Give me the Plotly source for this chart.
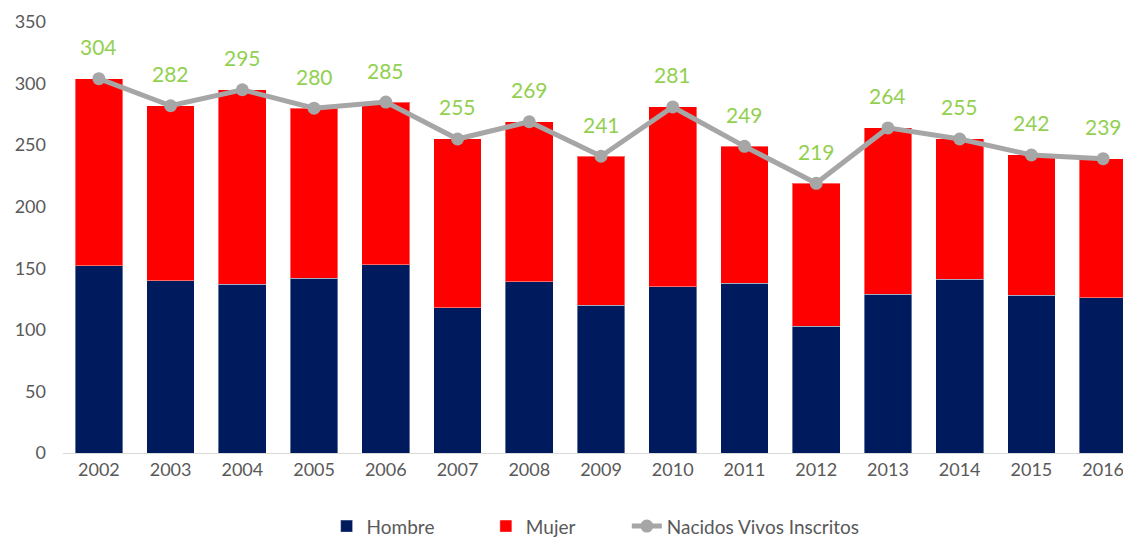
import plotly.graph_objects as go

FONT = 'Lato'
GRIS_TEXTO = '#595959'
AZUL = '#001A5E'
ROJO = '#FF0000'
GRIS_LINEA = '#A6A6A6'
VERDE = '#92D050'

anios = ['2002', '2003', '2004', '2005', '2006', '2007', '2008', '2009',
         '2010', '2011', '2012', '2013', '2014', '2015', '2016']
hombre = [152, 140, 137, 142, 153, 118, 139, 120, 135, 138, 103, 129, 141, 128, 126]
nacidos = [304, 282, 295, 280, 285, 255, 269, 241, 281, 249, 219, 264, 255, 242, 239]
mujer = [t - h for t, h in zip(nacidos, hombre)]

fig = go.Figure()

fig.add_trace(go.Bar(
    x=anios, y=hombre, name='Hombre', legend='legend',
    marker=dict(color=AZUL, line=dict(color='rgba(255,255,255,0.4)', width=1)),
))
fig.add_trace(go.Bar(
    x=anios, y=mujer, name='Mujer', legend='legend2',
    marker=dict(color=ROJO, line=dict(color='rgba(255,255,255,0.4)', width=1)),
))
fig.add_trace(go.Scatter(
    x=anios, y=nacidos, name='Nacidos Vivos Inscritos', legend='legend3',
    mode='lines+markers',
    line=dict(color=GRIS_LINEA, width=5),
    marker=dict(color=GRIS_LINEA, size=13),
))

# etiquetas verdes sobre la linea (x por indice de categoria)
for i, v in enumerate(nacidos):
    fig.add_annotation(
        x=i, y=v, xref='x', yref='y', text=str(v), showarrow=False, yshift=32,
        font=dict(family=FONT, size=21, color=VERDE),
    )

# una leyenda por serie para poder espaciarlas como en el original
def leyenda(x):
    return dict(
        orientation='h', x=x, xanchor='left', y=-0.17, yanchor='middle',
        font=dict(family=FONT, size=19, color=GRIS_TEXTO),
        bgcolor='rgba(0,0,0,0)',
    )

# la pagina tiene 8px de margen en el body -> se compensa en los margenes
fig.update_layout(
    width=1131, height=539,
    barmode='stack',
    bargap=0.335,
    plot_bgcolor='white',
    paper_bgcolor='white',
    font=dict(family=FONT, size=17, color=GRIS_TEXTO),
    margin=dict(l=55, r=0, t=14, b=94, autoexpand=False),
    showlegend=True,
    legend=leyenda(0.245),
    legend2=leyenda(0.393),
    legend3=leyenda(0.524),
    xaxis=dict(
        type='category', range=[-0.5, 14.5], automargin=False,
        showline=True, linecolor='#D9D9D9', linewidth=1,
        showgrid=False, ticks='', tickfont=dict(size=18, color=GRIS_TEXTO),
    ),
    yaxis=dict(
        range=[0, 350], dtick=50, showgrid=False, zeroline=False, automargin=False,
        showline=False, ticks='', ticklabelstandoff=16,
        tickfont=dict(size=18, color=GRIS_TEXTO),
    ),
)

fig.write_html('out.html')
